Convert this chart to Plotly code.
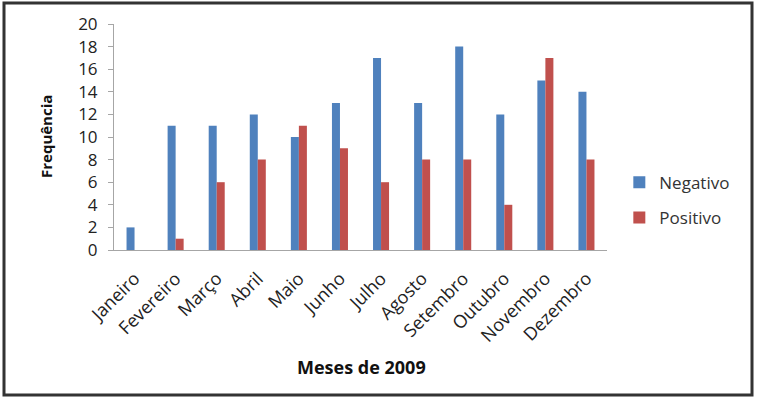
import plotly.graph_objects as go

meses = ["Janeiro", "Fevereiro", "Março", "Abril", "Maio", "Junho",
         "Julho", "Agosto", "Setembro", "Outubro", "Novembro", "Dezembro"]
negativo = [2, 11, 11, 12, 10, 13, 17, 13, 18, 12, 15, 14]
positivo = [0, 1, 6, 8, 11, 9, 6, 8, 8, 4, 17, 8]

fonte = "Open Sans"

fig = go.Figure()
fig.add_trace(go.Bar(x=meses, y=negativo, name="Negativo",
                     marker=dict(color="#4F81BD", line=dict(width=0)),
                     legendgroup="n"))
fig.add_trace(go.Bar(x=meses, y=positivo, name="Positivo",
                     marker=dict(color="#C0504D", line=dict(width=0)),
                     legendgroup="p"))

fig.update_layout(
    width=757, height=402,
    margin=dict(l=114, r=150, t=24, b=152),
    paper_bgcolor="white", plot_bgcolor="white",
    barmode="group", bargap=0.61, bargroupgap=0,
    font=dict(family=fonte, size=17, color="#222"),
    legend=dict(x=1.025, y=0.22, xanchor="left", yanchor="middle",
                font=dict(size=17, color="#333"), tracegroupgap=10,
                itemwidth=30),
    showlegend=True,
)

fig.update_yaxes(range=[0, 20], dtick=2, showgrid=False,
                 showline=True, linecolor="#a6a6a6", linewidth=1,
                 ticks="outside", ticklen=5, tickcolor="#a6a6a6",
                 ticklabelstandoff=7, zeroline=False,
                 tickfont=dict(size=17))
fig.update_xaxes(showgrid=False, showline=True, linecolor="#a6a6a6",
                 linewidth=1, tickangle=-45, ticks="", ticklabelstandoff=10,
                 tickfont=dict(size=18))

# titulos dos eixos
fig.add_annotation(text="<b>Frequência</b>", xref="paper", yref="paper",
                   x=(46 - 114) / 493, y=0.5, xanchor="center",
                   yanchor="middle", textangle=-90, showarrow=False,
                   font=dict(size=15, color="#111"))
fig.add_annotation(text="<b>Meses de 2009</b>", xref="paper", yref="paper",
                   x=(361 - 114) / 493, y=(250 - 367) / 226, xanchor="center",
                   yanchor="middle", showarrow=False,
                   font=dict(size=18, color="#111"))

# moldura
fig.add_shape(type="rect", xref="paper", yref="paper",
              x0=(4 - 114) / 493, x1=(752 - 114) / 493,
              y0=(250 - 395) / 226, y1=(250 - 3) / 226,
              line=dict(color="#333", width=3))

fig.write_html("out.html", config={"displayModeBar": False},
               post_script="document.body.style.margin='0';")
